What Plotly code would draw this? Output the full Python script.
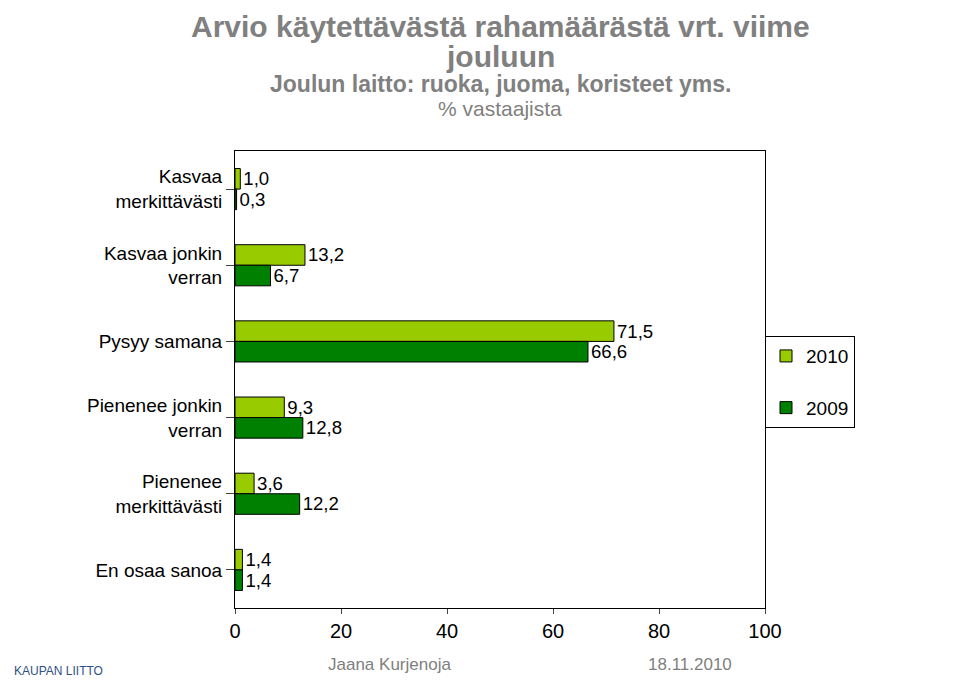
import plotly.graph_objects as go

categories = ["Kasvaa<br>merkittävästi", "Kasvaa jonkin<br>verran", "Pysyy samana",
              "Pienenee jonkin<br>verran", "Pienenee<br>merkittävästi", "En osaa sanoa"]
v2010 = [1.0, 13.2, 71.5, 9.3, 3.6, 1.4]
v2009 = [0.3, 6.7, 66.6, 12.8, 12.2, 1.4]
x_ticks = [0, 20, 40, 60, 80, 100]


def fmt(v):
    return f"{v:.1f}".replace(".", ",")


fig = go.Figure()
fig.add_trace(go.Bar(
    name="2010", y=categories, x=v2010, orientation="h", legendgroup="a",
    marker=dict(color="#99CC00", line=dict(color="black", width=1)),
    text=[fmt(v) for v in v2010], textposition="outside",
    textfont=dict(size=19, color="black"), cliponaxis=False,
))
fig.add_trace(go.Bar(
    name="2009", y=categories, x=v2009, orientation="h", legendgroup="b",
    marker=dict(color="#008000", line=dict(color="black", width=1)),
    text=[fmt(v) for v in v2009], textposition="outside",
    textfont=dict(size=19, color="black"), cliponaxis=False,
))

fig.update_layout(
    barmode="group",
    bargap=0.46,
    bargroupgap=0.0,
    width=960,
    height=698,
    margin=dict(l=227, r=203, t=143, b=98),
    plot_bgcolor="white",
    paper_bgcolor="white",
    font=dict(family="Liberation Sans, Arial", color="black"),
    showlegend=True,
    legend=dict(x=1.0, y=0.595, xanchor="left", yanchor="top",
                bordercolor="black", borderwidth=1, font=dict(size=19),
                traceorder="grouped", tracegroupgap=24, itemwidth=30),
)
fig.update_xaxes(range=[0, 100], tickvals=x_ticks, ticks="outside",
                 tickfont=dict(size=20), showgrid=False, showline=True,
                 linecolor="black", mirror=True)
fig.update_yaxes(autorange="reversed", ticks="outside", ticklen=8,
                 tickfont=dict(size=19), showgrid=False, showline=True,
                 linecolor="black", mirror=True)


def top_text(text, ytop, size, bold=True):
    t = f"<b>{text}</b>" if bold else text
    fig.add_annotation(text=t, x=0.5, y=1.0, xref="paper", yref="paper",
                       xanchor="center", yanchor="top", yshift=150 - ytop,
                       showarrow=False, font=dict(size=size, color="#808080"))


top_text("Arvio käytettävästä rahamäärästä vrt. viime", 7, 30)
top_text("jouluun", 37, 30)
top_text("Joulun laitto: ruoka, juoma, koristeet yms.", 68, 23)
top_text("% vastaajista", 94, 21, bold=False)

fig.add_annotation(text="Jaana Kurjenoja", x=0.292, y=0, xref="paper", yref="paper",
                   xanchor="center", yshift=-68, showarrow=False,
                   font=dict(size=17, color="#808080"))
fig.add_annotation(text="18.11.2010", x=0.858, y=0, xref="paper", yref="paper",
                   xanchor="center", yshift=-68, showarrow=False,
                   font=dict(size=17, color="#808080"))
fig.add_annotation(text="KAUPAN LIITTO", x=-0.42, y=0, xref="paper", yref="paper",
                   yshift=-72, xanchor="left", showarrow=False,
                   font=dict(size=12, color="#2f4f7f"))

fig.write_html("out.html")
